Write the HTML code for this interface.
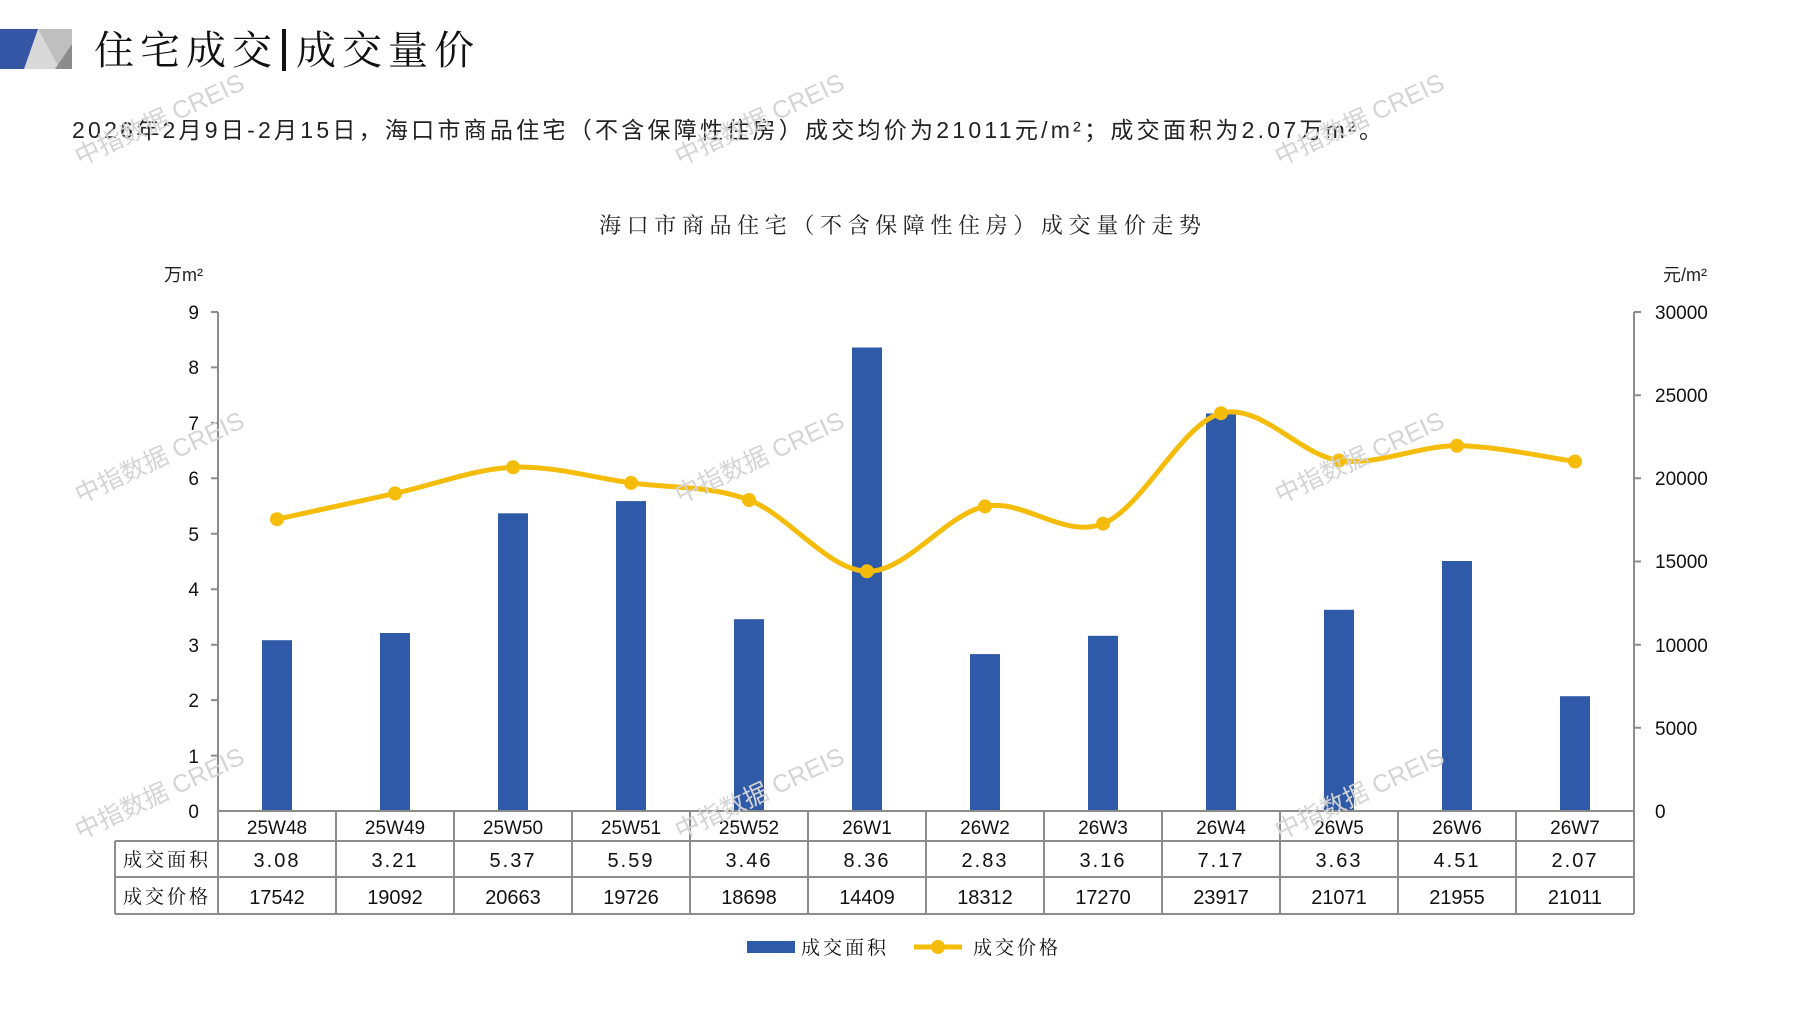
<!DOCTYPE html>
<html><head><meta charset="utf-8"><style>
html,body{margin:0;padding:0;background:#fff;}
svg{display:block;}
.cj{font-family:"Liberation Serif","Noto Serif CJK SC",serif;}
.sn{font-family:"Liberation Sans","Noto Sans CJK SC",sans-serif;}
.wm{font-family:"Liberation Sans","Noto Sans CJK SC",sans-serif;font-size:25px;fill:#d4d4d4;}
</style></head><body>
<svg width="1797" height="1010" viewBox="0 0 1797 1010" xmlns="http://www.w3.org/2000/svg">
<rect width="1797" height="1010" fill="#fff"/>
<polygon points="0,29 72,29 72,69 0,69" fill="#d9d9d9"/>
<polygon points="0,29 38,29 24,69 0,69" fill="#3555a5"/>
<polygon points="38,29 72,29 72,69 60,69" fill="#bfbfbf"/>
<polygon points="72,44 72,69 55,69" fill="#8c8c8c"/>
<text x="94" y="64" class="cj" font-size="40" fill="#111" letter-spacing="6">住宅成交</text>
<rect x="282" y="29" width="4" height="42" fill="#111"/>
<text x="296" y="64" class="cj" font-size="40" fill="#111" letter-spacing="6">成交量价</text>
<text x="72" y="138" class="sn" font-size="23" fill="#222" textLength="1310" lengthAdjust="spacing">2026年2月9日-2月15日，海口市商品住宅（不含保障性住房）成交均价为21011元/m²；成交面积为2.07万m²。</text>
<text x="599" y="233" class="cj" font-size="22" fill="#222" textLength="602" lengthAdjust="spacing">海口市商品住宅（不含保障性住房）成交量价走势</text>
<text x="164" y="281" class="sn" font-size="18" fill="#222">万m²</text>
<text x="1663" y="281" class="sn" font-size="18" fill="#222">元/m²</text>
<g stroke="#8c8c8c" stroke-width="2" fill="none">
<line x1="218" y1="312" x2="218" y2="811"/>
<line x1="1634" y1="312" x2="1634" y2="811"/>
<path d="M211 312H218M211 367.4H218M211 422.9H218M211 478.3H218M211 533.8H218M211 589.2H218M211 644.7H218M211 700.1H218M211 755.6H218"/>
<path d="M1634 312H1641M1634 395.2H1641M1634 478.3H1641M1634 561.5H1641M1634 644.7H1641M1634 727.8H1641"/>
</g>
<g class="sn" font-size="19" fill="#111" text-anchor="end">
<text x="199" y="319">9</text><text x="199" y="374">8</text><text x="199" y="430">7</text><text x="199" y="485">6</text><text x="199" y="541">5</text><text x="199" y="596">4</text><text x="199" y="652">3</text><text x="199" y="707">2</text><text x="199" y="763">1</text><text x="199" y="818">0</text>
</g>
<g class="sn" font-size="19" fill="#111">
<text x="1655" y="319">30000</text><text x="1655" y="402">25000</text><text x="1655" y="485">20000</text><text x="1655" y="568">15000</text><text x="1655" y="652">10000</text><text x="1655" y="735">5000</text><text x="1655" y="818">0</text>
</g>
<g fill="#2f5aa8">
<rect x="262" y="640.2" width="30" height="170.8"/>
<rect x="380" y="633" width="30" height="178"/>
<rect x="498" y="513.3" width="30" height="297.7"/>
<rect x="616" y="501.1" width="30" height="309.9"/>
<rect x="734" y="619.2" width="30" height="191.8"/>
<rect x="852" y="347.5" width="30" height="463.5"/>
<rect x="970" y="654.1" width="30" height="156.9"/>
<rect x="1088" y="635.8" width="30" height="175.2"/>
<rect x="1206" y="413.5" width="30" height="397.5"/>
<rect x="1324" y="609.8" width="30" height="201.2"/>
<rect x="1442" y="561" width="30" height="250"/>
<rect x="1560" y="696.2" width="30" height="114.8"/>
</g>
<path fill="none" stroke="#f5bd0a" stroke-width="5" stroke-linecap="round" d="M277 519.2 C296.7 514.9 355.7 502.05 395 493.4 C434.3 484.75 473.7 469.05 513 467.3 C552.3 465.55 591.7 477.45 631 482.9 C670.3 488.35 709.7 485.27 749 500 C788.3 514.73 827.7 570.23 867 571.3 C906.3 572.37 945.7 514.33 985 506.4 C1024.3 498.47 1063.7 539.23 1103 523.7 C1142.3 508.17 1181.7 423.73 1221 413.2 C1260.3 402.67 1299.7 455.07 1339 460.5 C1378.3 465.93 1417.7 445.63 1457 445.8 C1496.3 445.97 1555.3 458.88 1575 461.5"/>
<g fill="#f5bd0a">
<circle cx="277" cy="519.2" r="7"/><circle cx="395" cy="493.4" r="7"/><circle cx="513" cy="467.3" r="7"/><circle cx="631" cy="482.9" r="7"/><circle cx="749" cy="500" r="7"/><circle cx="867" cy="571.3" r="7"/><circle cx="985" cy="506.4" r="7"/><circle cx="1103" cy="523.7" r="7"/><circle cx="1221" cy="413.2" r="7"/><circle cx="1339" cy="460.5" r="7"/><circle cx="1457" cy="445.8" r="7"/><circle cx="1575" cy="461.5" r="7"/>
</g>
<g stroke="#8c8c8c" stroke-width="2" fill="none">
<line x1="218" y1="811" x2="1634" y2="811"/>
<line x1="115" y1="841" x2="1634" y2="841"/>
<line x1="115" y1="877" x2="1634" y2="877"/>
<line x1="115" y1="914" x2="1634" y2="914"/>
<line x1="115" y1="841" x2="115" y2="914"/>
<path d="M218 811V914M336 811V914M454 811V914M572 811V914M690 811V914M808 811V914M926 811V914M1044 811V914M1162 811V914M1280 811V914M1398 811V914M1516 811V914M1634 811V914"/>
</g>
<g class="sn" font-size="19" fill="#111" text-anchor="middle">
<text x="277" y="834">25W48</text><text x="395" y="834">25W49</text><text x="513" y="834">25W50</text><text x="631" y="834">25W51</text><text x="749" y="834">25W52</text><text x="867" y="834">26W1</text><text x="985" y="834">26W2</text><text x="1103" y="834">26W3</text><text x="1221" y="834">26W4</text><text x="1339" y="834">26W5</text><text x="1457" y="834">26W6</text><text x="1575" y="834">26W7</text>
</g>
<g class="sn" font-size="20" fill="#111" text-anchor="middle" letter-spacing="2">
<text x="277" y="867">3.08</text><text x="395" y="867">3.21</text><text x="513" y="867">5.37</text><text x="631" y="867">5.59</text><text x="749" y="867">3.46</text><text x="867" y="867">8.36</text><text x="985" y="867">2.83</text><text x="1103" y="867">3.16</text><text x="1221" y="867">7.17</text><text x="1339" y="867">3.63</text><text x="1457" y="867">4.51</text><text x="1575" y="867">2.07</text>
</g>
<g class="sn" font-size="20" fill="#111" text-anchor="middle">
<text x="277" y="904">17542</text><text x="395" y="904">19092</text><text x="513" y="904">20663</text><text x="631" y="904">19726</text><text x="749" y="904">18698</text><text x="867" y="904">14409</text><text x="985" y="904">18312</text><text x="1103" y="904">17270</text><text x="1221" y="904">23917</text><text x="1339" y="904">21071</text><text x="1457" y="904">21955</text><text x="1575" y="904">21011</text>
</g>
<g class="cj" font-size="19" fill="#111" text-anchor="middle" letter-spacing="3">
<text x="167" y="866">成交面积</text><text x="167" y="903">成交价格</text>
</g>
<rect x="747" y="941" width="48" height="12" fill="#2f5aa8"/>
<text x="801" y="954" class="cj" font-size="19" fill="#111" letter-spacing="3">成交面积</text>
<line x1="914" y1="947" x2="962" y2="947" stroke="#f5bd0a" stroke-width="5"/>
<circle cx="938" cy="947" r="7" fill="#f5bd0a"/>
<text x="973" y="954" class="cj" font-size="19" fill="#111" letter-spacing="3">成交价格</text>
<g class="wm">
<text transform="translate(80,166) rotate(-25)">中指数据 CREIS</text>
<text transform="translate(680,166) rotate(-25)">中指数据 CREIS</text>
<text transform="translate(1280,166) rotate(-25)">中指数据 CREIS</text>
<text transform="translate(80,504) rotate(-25)">中指数据 CREIS</text>
<text transform="translate(680,504) rotate(-25)">中指数据 CREIS</text>
<text transform="translate(1280,504) rotate(-25)">中指数据 CREIS</text>
<text transform="translate(80,840) rotate(-25)">中指数据 CREIS</text>
<text transform="translate(680,840) rotate(-25)">中指数据 CREIS</text>
<text transform="translate(1280,840) rotate(-25)">中指数据 CREIS</text>
</g>
</svg>
</body></html>
